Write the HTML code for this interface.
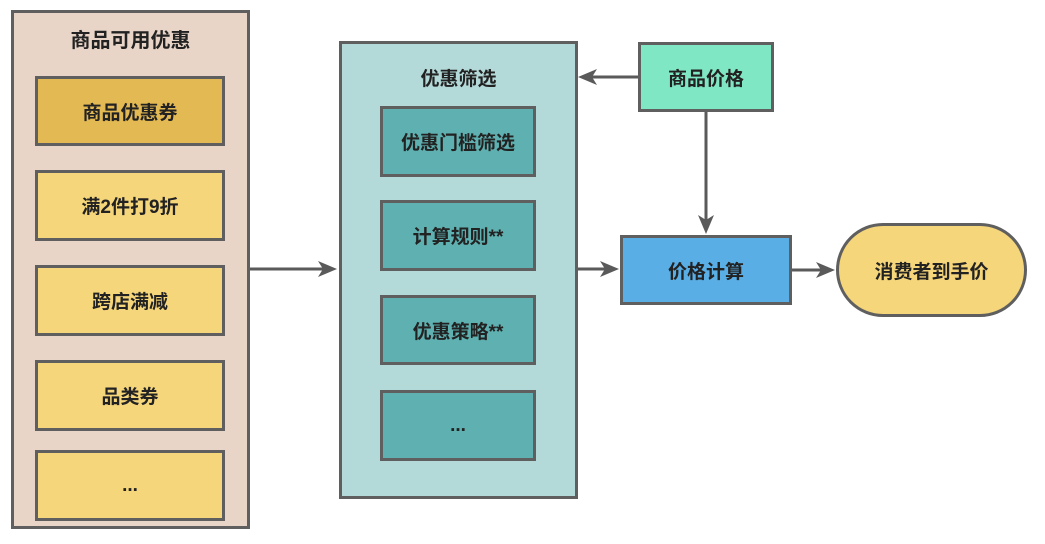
<!DOCTYPE html>
<html><head><meta charset="utf-8"><style>
body{margin:0;background:#fff;width:1045px;height:544px;overflow:hidden;position:relative;font-family:"Liberation Sans","Noto Sans CJK SC",sans-serif;color:#222}
.b{position:absolute;box-sizing:border-box;border:3px solid #5f5f5f;display:flex;align-items:center;justify-content:center;font-size:19px;font-weight:bold}
.t{position:absolute;font-size:20px;font-weight:bold;text-align:center}
svg{position:absolute;left:0;top:0}
</style></head><body>
<div class="b" style="left:11px;top:10px;width:239px;height:519px;background:#e8d5c8"></div>
<div class="t" style="left:11px;top:24px;width:239px">商品可用优惠</div>
<div class="b" style="left:35px;top:76px;width:190px;height:70px;background:#e3b953">商品优惠券</div>
<div class="b" style="left:35px;top:170px;width:190px;height:71px;background:#f6d67b">满2件打9折</div>
<div class="b" style="left:35px;top:265px;width:190px;height:71px;background:#f6d67b">跨店满减</div>
<div class="b" style="left:35px;top:360px;width:190px;height:71px;background:#f6d67b">品类券</div>
<div class="b" style="left:35px;top:450px;width:190px;height:71px;background:#f6d67b">...</div>

<div class="b" style="left:339px;top:41px;width:239px;height:458px;background:#b4d9d9"></div>
<div class="t" style="left:339px;top:64px;width:239px;font-size:19px">优惠筛选</div>
<div class="b" style="left:380px;top:106px;width:156px;height:71px;background:#5fb0b0">优惠门槛筛选</div>
<div class="b" style="left:380px;top:200px;width:156px;height:71px;background:#5fb0b0">计算规则**</div>
<div class="b" style="left:380px;top:295px;width:156px;height:70px;background:#5fb0b0">优惠策略**</div>
<div class="b" style="left:380px;top:390px;width:156px;height:71px;background:#5fb0b0">...</div>

<div class="b" style="left:638px;top:42px;width:136px;height:70px;background:#80e7c5">商品价格</div>
<div class="b" style="left:620px;top:235px;width:172px;height:70px;background:#5aaee6">价格计算</div>
<div class="b" style="left:836px;top:223px;width:191px;height:94px;border-radius:47px;background:#f6d67b">消费者到手价</div>

<svg width="1045" height="544">
<g stroke="#5a5a5a" stroke-width="3" fill="#5a5a5a">
<line x1="250" y1="269" x2="324" y2="269"/><polygon stroke="none" points="337,269 318,261 323,269 318,277"/>
<line x1="638" y1="77" x2="592" y2="77"/><polygon stroke="none" points="578,77 597,69 592,77 597,85"/>
<line x1="706" y1="112" x2="706" y2="220"/><polygon stroke="none" points="706,234 698,215 706,220 714,215"/>
<line x1="578" y1="269" x2="605" y2="269"/><polygon stroke="none" points="619,269 600,261 605,269 600,277"/>
<line x1="792" y1="270" x2="821" y2="270"/><polygon stroke="none" points="835,270 816,262 821,270 816,278"/>
</g></svg>
</body></html>
